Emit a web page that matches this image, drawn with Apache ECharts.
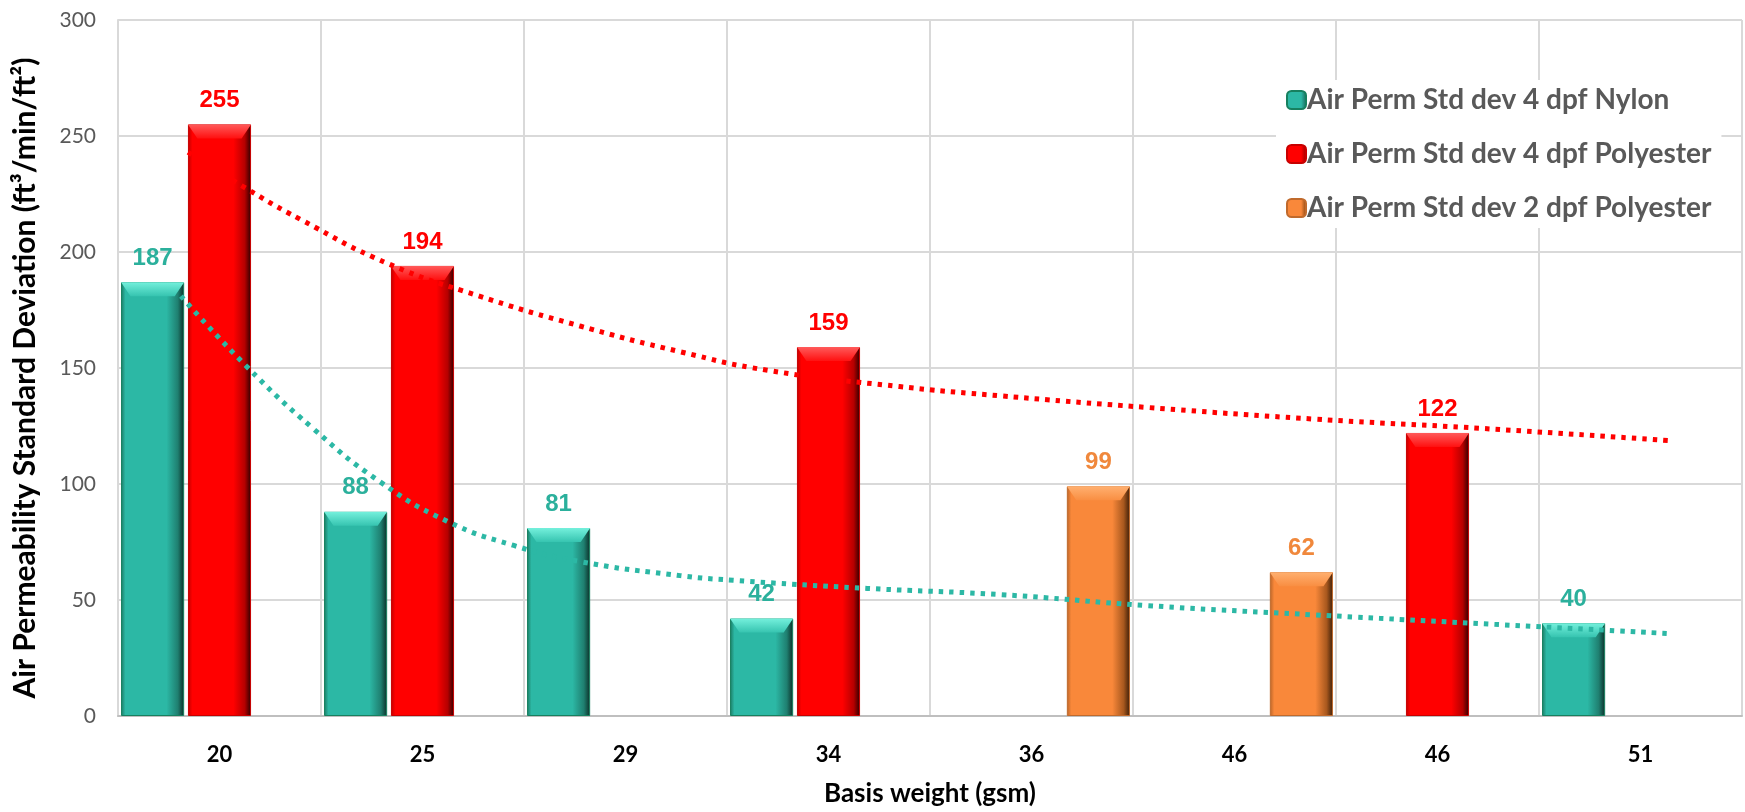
<!DOCTYPE html>
<html><head><meta charset="utf-8">
<script src="https://cdn.jsdelivr.net/npm/echarts@6/dist/echarts.min.js"></script>
<style>html,body{margin:0;padding:0;background:#fff}#c{width:1745px;height:812px}</style>
</head><body><div id="c"></div>
<script>
var categories = ['20','25','29','34','36','46','46','51'];
var nylon4 = [187, 88, 81, 42, null, null, null, 40];
var poly4 = [255, 194, null, 159, null, null, 122, null];
var poly2 = [null, null, null, null, 99, 62, null, null];
var yTicks = [0, 50, 100, 150, 200, 250, 300];
// dotted trendlines: [category position, value]
var trendPoly4 = [[0.345,243],[0.62,228],[0.9,214],[1.33,195],[1.78,181],[2.28,168],[2.77,157],[3.2,149],[3.85,142],[4.35,138],[5.07,133],[5.89,128],[6.71,124],[7.66,118.6]];
var trendNylon4 = [[0.31,181],[0.63,151],[0.96,124],[1.29,101],[1.62,84],[1.95,73.5],[2.28,66.5],[2.77,60.5],[3.03,58.5],[3.69,55],[4.35,52.3],[5.07,47.6],[5.89,43.6],[6.54,40.6],[7.65,35.5]];

var FONT = 'Lato, "Open Sans", sans-serif';
function grad(edge, main, shade, dark) {
  return {type:'linear', x:0, y:0, x2:1, y2:0, colorStops:[
    {offset:0, color:edge},{offset:0.07, color:main},{offset:0.72, color:main},
    {offset:0.9, color:shade},{offset:1, color:dark}]};
}
function vgrad(top, bottom) {
  return {type:'linear', x:0, y:0, x2:0, y2:1, colorStops:[{offset:0, color:top},{offset:1, color:bottom}]};
}
function barSeries(name, data, fill, border, labelColor) {
  return {
    name:name, type:'bar', data:data, barGap:'6%', barCategoryGap:'3%',
    itemStyle:{color:fill, borderColor:border, borderWidth:1},
    label:{show:true, position:'top', distance:12, color:labelColor,
      fontFamily:'"Liberation Sans", Arial, sans-serif', fontWeight:'bold', fontSize:24,
      formatter:function(p){return p.value==null?'':p.value;}},
    z:2
  };
}
function bevelSeries(name, data, top, bottom) {
  return {
    name:name, type:'pictorialBar', data:data, barGap:'6%', barCategoryGap:'3%',
    symbol:'path://M0,0 L20,0 L17,3 L3,3 Z', symbolSize:['100%', 14],
    symbolPosition:'end', silent:true,
    itemStyle:{color:vgrad(top, bottom)}, z:3
  };
}
var chart = echarts.init(document.getElementById('c'), null, {renderer:'canvas'});
chart.setOption({
  animation:false,
  backgroundColor:'#ffffff',
  grid:{left:118, right:3, top:20, bottom:88, containLabel:false},
  legend:{
    data:['Air Perm Std dev 4 dpf Nylon','Air Perm Std dev 4 dpf Polyester','Air Perm Std dev 2 dpf Polyester'],
    orient:'vertical', left:1276, top:80, itemWidth:19, itemHeight:18, itemGap:26,
    backgroundColor:'#ffffff', padding:[6,10,6,10],
    textStyle:{color:'#595959', fontFamily:FONT, fontWeight:'bold', fontSize:28, padding:[0,0,0,-4]}
  },
  xAxis:[{
    type:'category', data:categories, boundaryGap:true,
    axisLine:{show:true, lineStyle:{color:'#BFBFBF', width:2}},
    axisTick:{show:false},
    splitLine:{show:true, lineStyle:{color:'#D9D9D9', width:2}},
    axisLabel:{color:'#000', fontFamily:FONT, fontWeight:'bold', fontSize:22, margin:28},
    name:'Basis weight (gsm)', nameLocation:'middle', nameGap:65,
    nameTextStyle:{color:'#000', fontFamily:FONT, fontWeight:'bold', fontSize:26}
  },{
    type:'value', min:0, max:8, show:false
  }],
  yAxis:{
    type:'value', min:0, max:300, interval:50,
    axisLine:{show:true, lineStyle:{color:'#D9D9D9', width:2}},
    axisTick:{show:false},
    splitLine:{show:true, lineStyle:{color:'#D9D9D9', width:2}},
    axisLabel:{color:'#595959', fontFamily:FONT, fontSize:21, margin:22,
      formatter:function(v){return yTicks.indexOf(v)>=0?String(v):'';}},
    name:'Air Permeability Standard Deviation (ft³/min/ft²)', nameLocation:'middle', nameGap:78,
    nameTextStyle:{color:'#000', fontFamily:FONT, fontWeight:'bold', fontSize:30, padding:[0,20,0,0]}
  },
  series:[
    barSeries('Air Perm Std dev 4 dpf Nylon', nylon4, grad('#1C7A62','#2CB8A5','#1F7F70','#0B2E27'), '#17805F', '#2BB09C'),
    barSeries('Air Perm Std dev 4 dpf Polyester', poly4, grad('#C00000','#FF0000','#B50000','#2E0000'), '#C80000', '#FF0000'),
    barSeries('Air Perm Std dev 2 dpf Polyester', poly2, grad('#B86428','#F9883A','#A8581E','#3A1D08'), '#C06A2C', '#F0883C'),
    bevelSeries('bevelNylon', nylon4, '#74F0DC', '#36C4B0'),
    bevelSeries('bevelPoly4', poly4, '#FF5A5A', '#FF1010'),
    bevelSeries('bevelPoly2', poly2, '#FFB070', '#F98E42'),
    {name:'trendNylon', type:'line', xAxisIndex:1, data:trendNylon4, smooth:true, showSymbol:false, silent:true,
      lineStyle:{color:'#2CB8A5', width:5, type:[4.5,6], cap:'butt'}, z:5},
    {name:'trendPoly', type:'line', xAxisIndex:1, data:trendPoly4, smooth:true, showSymbol:false, silent:true,
      lineStyle:{color:'#FF0000', width:5, type:[4.5,6], cap:'butt'}, z:5}
  ]
});
</script></body></html>
